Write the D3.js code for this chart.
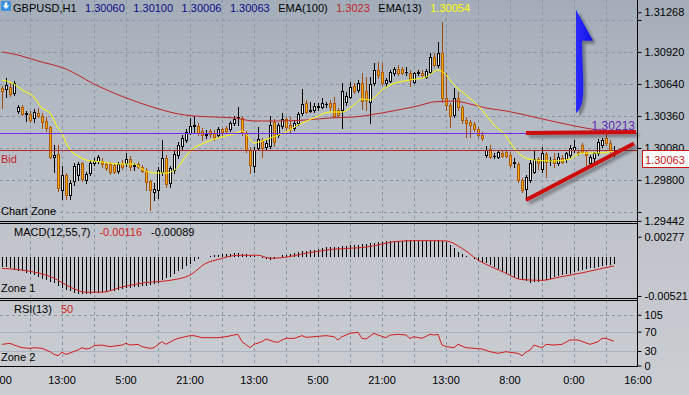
<!DOCTYPE html>
<html><head><meta charset="utf-8">
<script src="https://cdn.jsdelivr.net/npm/d3@7"></script>
<style>
html,body{margin:0;padding:0;background:#c4c8cd;overflow:hidden;}
svg{display:block;font-family:"Liberation Sans",Arial,sans-serif;font-size:11px;}
</style></head><body>
<svg id="chart" width="689" height="395"></svg>
<script>
// ---------------- DATA ----------------
const symbol = "GBPUSD,H1";
const opens = [1.30605,1.30596,1.30614,1.30561,1.30404,1.30439,1.30378,1.30378,1.30343,1.30386,
1.30360,1.30316,1.30264,1.30001,1.30028,1.29713,1.29844,1.29669,1.29791,1.29844,
1.29949,1.29800,1.29861,1.29949,1.29966,1.29966,1.29940,1.29940,1.29931,1.29879,
1.29949,1.29949,1.29984,1.29923,1.29940,1.29914,1.29888,1.29791,1.29695,1.29713,
1.29870,1.29993,1.29774,1.29888,1.30019,1.30098,1.30150,1.30211,1.30273,1.30273,
1.30229,1.30194,1.30229,1.30211,1.30194,1.30246,1.30255,1.30246,1.30299,1.30343,
1.30343,1.30211,1.30063,1.29923,1.30080,1.30150,1.30089,1.30098,1.30308,1.30194,
1.30273,1.30334,1.30281,1.30255,1.30299,1.30386,1.30474,1.30404,1.30413,1.30439,
1.30439,1.30465,1.30474,1.30474,1.30413,1.30413,1.30483,1.30526,1.30623,1.30588,
1.30649,1.30579,1.30483,1.30649,1.30763,1.30745,1.30649,1.30666,1.30736,1.30771,
1.30771,1.30745,1.30736,1.30658,1.30736,1.30736,1.30701,1.30745,1.30876,1.30806,
1.30911,1.30518,1.30456,1.30369,1.30518,1.30439,1.30325,1.30308,1.30290,1.30246,
1.30194,1.30019,1.30071,1.30010,1.30001,1.30036,1.30045,1.30019,1.29949,1.29940,
1.29800,1.29721,1.29800,1.29870,1.29984,1.29896,1.30028,1.29975,1.29984,1.29949,
1.29993,1.29984,1.30019,1.30063,1.30045,1.30106,1.30045,1.29949,1.29993,1.30036,
1.30106,1.30168,1.30124,1.30060];
const highs = [1.30623,1.30693,1.30649,1.30666,1.30456,1.30456,1.30404,1.30404,1.30421,1.30430,
1.30386,1.30351,1.30273,1.30106,1.30106,1.29923,1.29861,1.29800,1.29949,1.29958,
1.29958,1.29870,1.29975,1.29993,1.30019,1.29993,1.29958,1.29958,1.29949,1.29958,
1.29975,1.30036,1.30010,1.29949,1.29958,1.29931,1.29905,1.29800,1.29774,1.29914,
1.30150,1.30019,1.29923,1.30054,1.30133,1.30194,1.30246,1.30343,1.30360,1.30299,
1.30255,1.30238,1.30246,1.30238,1.30264,1.30255,1.30273,1.30316,1.30360,1.30439,
1.30360,1.30229,1.30089,1.30089,1.30264,1.30168,1.30150,1.30360,1.30334,1.30299,
1.30386,1.30351,1.30351,1.30325,1.30395,1.30596,1.30500,1.30483,1.30474,1.30474,
1.30518,1.30483,1.30500,1.30526,1.30430,1.30649,1.30570,1.30658,1.30649,1.30675,
1.30736,1.30701,1.30701,1.30824,1.30833,1.30824,1.30693,1.30763,1.30789,1.30806,
1.30789,1.30789,1.30763,1.30745,1.30763,1.30763,1.30771,1.30911,1.30911,1.31008,
1.31183,1.30736,1.30474,1.30605,1.30570,1.30456,1.30351,1.30325,1.30308,1.30264,
1.30220,1.30098,1.30106,1.30036,1.30063,1.30063,1.30063,1.30045,1.29993,1.29958,
1.29818,1.29844,1.29975,1.30063,1.30001,1.30089,1.30045,1.30001,1.30036,1.30036,
1.30019,1.30045,1.30106,1.30150,1.30063,1.30124,1.30063,1.30019,1.30045,1.30159,
1.30168,1.30211,1.30150,1.30100];
const lows = [1.30430,1.30526,1.30535,1.30544,1.30386,1.30369,1.30316,1.30308,1.30308,1.30351,
1.30255,1.30229,1.29993,1.29870,1.29704,1.29634,1.29634,1.29634,1.29756,1.29800,
1.29791,1.29774,1.29844,1.29931,1.29949,1.29914,1.29888,1.29853,1.29861,1.29861,
1.29896,1.29923,1.29888,1.29888,1.29905,1.29870,1.29713,1.29538,1.29625,1.29643,
1.29844,1.29739,1.29739,1.29861,1.29993,1.30071,1.30133,1.30203,1.30220,1.30194,
1.30150,1.30168,1.30176,1.30150,1.30176,1.30185,1.30211,1.30229,1.30281,1.30281,
1.30194,1.30045,1.29861,1.29870,1.30063,1.30001,1.30071,1.30080,1.30098,1.30176,
1.30255,1.30238,1.30220,1.30238,1.30281,1.30369,1.30386,1.30395,1.30395,1.30413,
1.30430,1.30439,1.30413,1.30351,1.30351,1.30255,1.30456,1.30518,1.30561,1.30570,
1.30421,1.30413,1.30299,1.30631,1.30693,1.30631,1.30623,1.30658,1.30719,1.30719,
1.30728,1.30719,1.30623,1.30649,1.30719,1.30701,1.30693,1.30736,1.30798,1.30789,
1.30483,1.30413,1.30264,1.30351,1.30413,1.30299,1.30176,1.30176,1.30229,1.30176,
1.30150,1.30001,1.29993,1.29993,1.29993,1.30001,1.30001,1.29914,1.29914,1.29783,
1.29695,1.29625,1.29783,1.29861,1.29896,1.29870,1.29826,1.29931,1.29914,1.29931,
1.29949,1.29958,1.30001,1.30045,1.30019,1.30036,1.29931,1.29940,1.29958,1.30019,
1.30089,1.30106,1.30045,1.30006];
const closes = [1.30579,1.30631,1.30553,1.30649,1.30439,1.30378,1.30386,1.30325,1.30395,1.30360,
1.30308,1.30255,1.30001,1.30019,1.29730,1.29844,1.29669,1.29774,1.29923,1.29940,
1.29809,1.29853,1.29949,1.29966,1.30001,1.29940,1.29905,1.29870,1.29870,1.29940,
1.29914,1.29984,1.29914,1.29931,1.29914,1.29879,1.29783,1.29713,1.29721,1.29888,
1.29993,1.29765,1.29905,1.30028,1.30106,1.30168,1.30220,1.30273,1.30277,1.30211,
1.30194,1.30198,1.30203,1.30176,1.30246,1.30220,1.30229,1.30299,1.30334,1.30347,
1.30220,1.30063,1.29931,1.30063,1.30159,1.30080,1.30124,1.30281,1.30133,1.30281,
1.30334,1.30264,1.30246,1.30299,1.30378,1.30465,1.30395,1.30413,1.30448,1.30448,
1.30474,1.30468,1.30439,1.30360,1.30369,1.30579,1.30535,1.30614,1.30579,1.30649,
1.30491,1.30500,1.30640,1.30763,1.30719,1.30649,1.30675,1.30745,1.30771,1.30736,
1.30736,1.30749,1.30675,1.30736,1.30741,1.30719,1.30754,1.30876,1.30806,1.30911,
1.30518,1.30456,1.30360,1.30518,1.30439,1.30325,1.30299,1.30281,1.30246,1.30194,
1.30168,1.30063,1.30001,1.30014,1.30045,1.30010,1.30010,1.29931,1.29953,1.29800,
1.29713,1.29826,1.29949,1.29984,1.29949,1.30036,1.29958,1.29979,1.29949,1.30001,
1.29958,1.30036,1.30080,1.30089,1.30036,1.30045,1.30019,1.30001,1.30036,1.30133,
1.30150,1.30124,1.30063,1.30063];

// EMA(13) and EMA(100) read at key candles (candle index, value)
const ema13Idx = [0,3,5,8,10,12,14,15,16,17,19,21,25,29,33,35,38,41,44,46,48,50,54,58,60,61,63,67,71,74,78,82,85,88,90,92,95,97,102,106,109,111,113,116,120,123,126,128,130,133,138,142,145,149,153];
const ema13Val = [1.30675,1.30640,1.30588,1.30526,1.30430,1.30386,1.30255,1.30211,1.30124,1.30063,1.30010,1.29975,1.29958,1.29940,1.29940,1.29896,1.29861,1.29861,1.29914,1.30010,1.30080,1.30115,1.30168,1.30203,1.30229,1.30203,1.30124,1.30168,1.30220,1.30281,1.30343,1.30395,1.30395,1.30456,1.30509,1.30500,1.30588,1.30631,1.30675,1.30701,1.30763,1.30719,1.30631,1.30544,1.30413,1.30281,1.30185,1.30080,1.30010,1.29975,1.29966,1.29984,1.30036,1.30036,1.30054];
const ema100Idx = [0,4,9,16,23,31,36,40,44,48,53,58,63,69,76,82,88,92,99,104,108,113,117,121,126,134,142,149,153];
const ema100Val = [1.30920,1.30894,1.30841,1.30771,1.30640,1.30518,1.30456,1.30413,1.30378,1.30360,1.30351,1.30343,1.30316,1.30316,1.30325,1.30343,1.30351,1.30369,1.30413,1.30448,1.30483,1.30491,1.30465,1.30430,1.30404,1.30343,1.30281,1.30238,1.30230];

// MACD(12,55,7): histogram per candle, signal read at key candles
const macdHist = [-0.00126,-0.00135,-0.00150,-0.00165,-0.00178,-0.00190,-0.00205,-0.00220,-0.00240,-0.00262,
-0.00290,-0.00310,-0.00330,-0.00350,-0.00380,-0.00420,-0.00440,-0.00460,-0.00475,-0.00490,
-0.00495,-0.00500,-0.00495,-0.00485,-0.00478,-0.00470,-0.00462,-0.00455,-0.00450,-0.00440,
-0.00430,-0.00420,-0.00412,-0.00405,-0.00400,-0.00390,-0.00382,-0.00375,-0.00360,-0.00340,
-0.00310,-0.00285,-0.00260,-0.00225,-0.00190,-0.00155,-0.00120,-0.00085,-0.00050,-0.00025,
0.00000,0.00010,0.00020,0.00025,0.00030,0.00038,0.00045,0.00050,0.00054,0.00054,
0.00050,0.00042,0.00035,0.00022,0.00010,-0.00010,-0.00027,-0.00030,-0.00020,0.00005,
0.00027,0.00035,0.00045,0.00055,0.00067,0.00080,0.00090,0.00095,0.00100,0.00110,
0.00120,0.00132,0.00143,0.00143,0.00143,0.00148,0.00150,0.00160,0.00166,0.00170,
0.00175,0.00182,0.00190,0.00198,0.00206,0.00210,0.00215,0.00220,0.00224,0.00224,
0.00224,0.00228,0.00233,0.00230,0.00224,0.00224,0.00224,0.00224,0.00224,0.00226,
0.00224,0.00210,0.00170,0.00120,0.00070,0.00040,0.00020,0.00000,-0.00027,-0.00045,
-0.00060,-0.00080,-0.00100,-0.00130,-0.00160,-0.00190,-0.00220,-0.00245,-0.00270,-0.00290,
-0.00310,-0.00325,-0.00340,-0.00338,-0.00330,-0.00322,-0.00310,-0.00290,-0.00270,-0.00255,
-0.00240,-0.00230,-0.00220,-0.00200,-0.00180,-0.00170,-0.00160,-0.00150,-0.00140,-0.00130,
-0.00120,-0.00110,-0.00100,-0.00089];
const macdSigIdx = [0,6,13,17,21,25,30,36,42,47,51,54,59,64,67,70,76,83,90,94,98,103,108,111,115,119,125,130,135,139,145,150,153];
const macdSigVal = [-0.0015,-0.0018,-0.0028,-0.0040,-0.0047,-0.0047,-0.0040,-0.0034,-0.0031,-0.0024,-0.0008,-0.0003,0.00027,0.00027,-0.00013,-0.00005,0.00054,0.0011,0.0013,0.00166,0.0021,0.00224,0.00224,0.0022,0.0012,-0.00036,-0.0019,-0.0030,-0.0031,-0.0027,-0.0021,-0.0015,-0.00116];

// RSI(13) read at key candles
const rsiIdx = [0,2,3,5,7,8,10,12,13,14,15,16,19,20,21,22,23,25,27,30,31,32,34,35,37,38,40,41,43,44,47,48,50,54,56,58,59,60,62,63,65,66,68,69,70,71,73,75,76,81,83,84,85,87,89,90,91,93,94,96,97,99,101,102,103,105,107,108,109,110,111,113,114,116,118,120,122,124,126,127,129,130,131,132,133,135,136,138,140,142,144,147,149,150,151,153];
const rsiVal = [43.8,45.9,42.4,36.9,35.5,36.9,35.5,28.6,23.1,20.4,27.3,23.1,32.1,36.9,34.2,35.5,41.1,42.4,39.0,42.4,45.9,42.4,43.8,39.0,35.5,36.9,49.3,43.8,52.8,56.2,61.8,61.8,57.6,57.6,59.7,63.1,64.5,49.3,36.9,43.8,49.3,54.9,49.3,48.0,52.8,56.2,56.2,61.8,58.3,61.8,59.7,52.8,59.7,66.6,68.7,56.2,54.9,66.6,63.1,57.6,63.1,64.5,63.1,56.2,59.7,56.2,64.5,63.1,64.5,42.4,39.0,36.9,43.8,36.9,35.5,34.2,28.6,25.2,28.6,27.3,25.2,20.4,27.3,32.1,42.4,36.9,43.8,42.4,43.8,52.8,52.8,43.8,49.3,56.2,56.2,50];

const mainTicks = [1.31268,1.30920,1.30640,1.30360,1.30080,1.29800,1.29442];
const mainGrid = [1.3120,1.3092,1.3064,1.3036,1.3008,1.2980,1.2952];
const macdTicks = [0.00277,-0.00521];
const rsiTicks = [105,70,30,0];
const rsiLevels = [70,30];
const timeIdx = [-1,15,31,47,63,79,95,111,127,143,159];
const timeLabels = ["21:00","13:00","5:00","21:00","13:00","5:00","21:00","13:00","8:00","0:00","16:00"];
const hLinePrice = 1.30213;
const trendFlat = [[131,1.30211],[158.5,1.30220]];
const trendUp = [[131,1.29625],[158,1.30119]];
const arrowAnchor = [143.5,1.31290];

// ---------------- LAYOUT ----------------
const plotRight = 637;
const main = {top:0,bottom:221}, macdP = {top:223,bottom:298}, rsiP = {top:300,bottom:367};
const n = closes.length;
const x = d3.scaleLinear().domain([0,153]).range([2,614]);
const y = d3.scaleLinear().domain([1.29442,1.31268]).range([220.9,12.2]);
const yM = d3.scaleLinear().domain([-0.00521,0.00277]).range([296,236.7]);
const yR = d3.scaleLinear().domain([0,105]).range([365.5,314.8]);
const px = i => Math.round(x(i)) + 0.5;

const svg = d3.select('#chart');
const defs = svg.append('defs');
const bg = defs.append('linearGradient').attr('id','bg').attr('x1',0).attr('y1',0).attr('x2',0).attr('y2',1);
[[0,'#a3adb9'],[0.3,'#b4bbc4'],[0.6,'#c1c5cb'],[1,'#cbced3']].forEach(([o,c])=>bg.append('stop').attr('offset',o).attr('stop-color',c));
const ag = defs.append('linearGradient').attr('id','ag').attr('x1',0).attr('y1',0).attr('x2',1).attr('y2',0);
[[0,'#0808d8'],[0.45,'#2c2cff'],[1,'#1010e0']].forEach(([o,c])=>ag.append('stop').attr('offset',o).attr('stop-color',c));
const f = defs.append('filter').attr('id','sh').attr('filterUnits','userSpaceOnUse')
  .attr('x',0).attr('y',0).attr('width',689).attr('height',395);
f.append('feGaussianBlur').attr('in','SourceAlpha').attr('stdDeviation',1.4).attr('result','b');
f.append('feOffset').attr('in','b').attr('dx',3).attr('dy',3).attr('result','o');
f.append('feComponentTransfer').attr('in','o').attr('result','o2').append('feFuncA').attr('type','linear').attr('slope',0.35);
const fm = f.append('feMerge'); fm.append('feMergeNode').attr('in','o2'); fm.append('feMergeNode').attr('in','SourceGraphic');

svg.append('rect').attr('width',689).attr('height',395).attr('fill','url(#bg)');

// grid
const grid = svg.append('g').attr('stroke','#8a96a6').attr('stroke-width',1).attr('stroke-dasharray','3,3');
const gridIdx = d3.range(7,153,8);
[main,macdP,rsiP].forEach(p=>{
  gridIdx.forEach(i=>grid.append('line').attr('x1',px(i)).attr('x2',px(i)).attr('y1',p.top).attr('y2',p.bottom));
});
mainGrid.forEach(v=>{const yy=Math.round(y(v))+0.5; grid.append('line').attr('x1',0).attr('x2',plotRight).attr('y1',yy).attr('y2',yy);});
grid.append('line').attr('x1',0).attr('x2',plotRight).attr('y1',Math.round(yR(105))+0.5).attr('y2',Math.round(yR(105))+0.5);
rsiLevels.forEach(v=>{const yy=Math.round(yR(v))+0.5; svg.append('line').attr('x1',0).attr('x2',plotRight).attr('y1',yy).attr('y2',yy).attr('stroke','#adb4bd').attr('stroke-width',1);});

// candles
const cg = svg.append('g');
for(let i=0;i<n;i++){
  const o=opens[i],c=closes[i],h=highs[i],l=lows[i];
  const bull = c>=o;
  const wick = bull ? '#000000' : '#a04e10';
  const xx = px(i);
  cg.append('line').attr('x1',xx).attr('x2',xx).attr('y1',Math.round(y(h))).attr('y2',Math.round(y(l))+1).attr('stroke',wick);
  const t = Math.round(y(Math.max(o,c))), b = Math.round(y(Math.min(o,c)));
  const bx = Math.round(x(i)) - 1;
  if(b - t < 1){
    cg.append('line').attr('x1',bx).attr('x2',bx+3).attr('y1',t+0.5).attr('y2',t+0.5).attr('stroke',wick);
  } else {
    cg.append('rect').attr('x',bx).attr('y',t).attr('width',3).attr('height',b-t+1).attr('fill',bull?'#ffffff':'#f2aa00');
    cg.append('rect').attr('x',bx+0.5).attr('y',t+0.5).attr('width',2).attr('height',b-t).attr('fill','none').attr('stroke',bull?'#000000':'#b05a0c');
  }
}

// EMA lines
const lineP = (xs,vs,ys,curve)=>d3.line().x(d=>x(d)).y((d,k)=>ys(vs[k])).curve(curve)(xs);
svg.append('path').attr('d',lineP(ema100Idx,ema100Val,y,d3.curveMonotoneX)).attr('fill','none').attr('stroke','#c0242a').attr('stroke-width',1);
svg.append('path').attr('d',lineP(ema13Idx,ema13Val,y,d3.curveMonotoneX)).attr('fill','none').attr('stroke','#ffff00').attr('stroke-width',1);

// horizontal lines
const hy = Math.round(y(hLinePrice))+0.5;
svg.append('line').attr('x1',0).attr('x2',plotRight).attr('y1',hy).attr('y2',hy).attr('stroke','#7a28ee').attr('stroke-width',1.2);
const bid = closes[n-1];
const by = Math.round(y(bid))+0.5;
svg.append('line').attr('x1',0).attr('x2',plotRight).attr('y1',by).attr('y2',by).attr('stroke','#b02828');
svg.append('text').attr('x',635).attr('y',hy-4).attr('text-anchor','end').attr('fill','#6424b4').attr('font-size',12).text(hLinePrice.toFixed(5));
svg.append('text').attr('x',1).attr('y',by+12).attr('fill','#c0242a').text('Bid');

// trend lines
const tl = svg.append('g').attr('filter','url(#sh)');
[trendFlat,trendUp].forEach(t=>{
  tl.append('line').attr('x1',x(t[0][0])).attr('y1',y(t[0][1])).attr('x2',x(t[1][0])).attr('y2',y(t[1][1]))
    .attr('stroke','#cc0a0a').attr('stroke-width',4).attr('stroke-linecap','butt');
});

// blue arrow (J-shaped, pointing up)
const ax = x(arrowAnchor[0]), ay = y(arrowAnchor[1]);
svg.append('path').attr('transform',`translate(${ax},${ay})`).attr('filter','url(#sh)')
  .attr('d','M0,0 L17,31 L6,31 C6,50 8,72 7,86 C6,99 1,105 -5,105 C-11,105 -15,99 -15,91 L-15,77 L-9,77 L-9,90 C-9,96 -4,96 -4,89 C-4,70 -4,50 -4,31 L-14,31 Z')
  .attr('fill','url(#ag)');

// MACD
const mg = svg.append('g').attr('stroke','#000');
const z = Math.round(yM(0));
macdHist.forEach((v,i)=>{ mg.append('line').attr('x1',px(i)).attr('x2',px(i)).attr('y1',z).attr('y2',Math.round(yM(v))); });
svg.append('path').attr('d',lineP(macdSigIdx,macdSigVal,yM,d3.curveMonotoneX)).attr('fill','none').attr('stroke','#d01e1e').attr('stroke-width',1);

// RSI
svg.append('path').attr('d',lineP(rsiIdx,rsiVal,yR,d3.curveLinear)).attr('fill','none').attr('stroke','#d01e1e').attr('stroke-width',1);

// frames
const fr = svg.append('g').attr('stroke','#000').attr('stroke-width',1);
[[221.5],[223.5],[298.5],[300.5],[366.5]].forEach(([yy])=>fr.append('line').attr('x1',0).attr('x2',plotRight+0.5).attr('y1',yy).attr('y2',yy));
fr.append('line').attr('x1',plotRight+0.5).attr('x2',plotRight+0.5).attr('y1',0).attr('y2',367);

// axes
function rAxis(scale, vals, fmt){
  const g = svg.append('g').attr('transform',`translate(${plotRight+0.5},0)`)
    .call(d3.axisRight(scale).tickValues(vals).tickFormat(fmt).tickSize(4).tickPadding(3));
  g.select('.domain').remove();
  g.selectAll('text').attr('fill','#000').attr('font-size',11).attr('font-family','Liberation Sans, Arial, sans-serif');
  g.selectAll('line').attr('stroke','#000');
  return g;
}
rAxis(y, mainTicks, d=>d.toFixed(5));
rAxis(y, [mainGrid[0], mainGrid[mainGrid.length-1]], ()=> '');
rAxis(yM, macdTicks, d=>d.toFixed(5));
rAxis(yR, rsiTicks, d=>String(d));

// bid price box
svg.append('rect').attr('x',642.5).attr('y',Math.round(y(bid))+0.5).attr('width',50).attr('height',17).attr('fill','#ffffff').attr('stroke','#c81414');
svg.append('text').attr('x',645).attr('y',Math.round(y(bid))+14).attr('fill','#c81414').text(bid.toFixed(5));

// time labels
timeIdx.forEach((i,k)=>svg.append('text').attr('x',x(i)).attr('y',384).attr('text-anchor','middle').attr('fill','#000').text(timeLabels[k]));

// header / panel labels
function flow(items, x0, yb, gap){
  let xx = x0;
  items.forEach(([t,c])=>{const el = svg.append('text').attr('x',xx).attr('y',yb).attr('fill',c).text(t); xx += el.node().getComputedTextLength()+gap;});
}
const trim = v => String(+v.toFixed(5));
const navy = '#0c0c86';
const ic = svg.append('g').attr('transform','translate(1,1)');
ic.append('rect').attr('width',10).attr('height',10).attr('rx',1.5).attr('fill','#3a92e0');
ic.append('path').attr('d','M5,8 L1.8,4.5 L3.8,4.5 L3.8,1.5 L6.2,1.5 L6.2,4.5 L8.2,4.5 Z').attr('fill','#fff');
flow([[symbol,'#000'],[opens[n-1].toFixed(5),navy],[highs[n-1].toFixed(5),navy],[lows[n-1].toFixed(5),navy],[closes[n-1].toFixed(5),navy],
      ['EMA(100)','#000'],[trim(ema100Val[ema100Val.length-1]),'#c0242a'],['EMA(13)','#000'],[ema13Val[ema13Val.length-1].toFixed(5),'#ffff00']], 13, 12, 8.5);
flow([['MACD(12,55,7)','#000'],[macdSigVal[macdSigVal.length-1].toFixed(5),'#d01e1e'],[macdHist[n-1].toFixed(5),'#000']], 14, 236, 9);
flow([['RSI(13)','#000'],[String(rsiVal[rsiVal.length-1]),'#d01e1e']], 14, 313, 9);
svg.append('text').attr('x',1).attr('y',215).attr('fill','#000').text('Chart Zone');
svg.append('text').attr('x',1).attr('y',292).attr('fill','#000').text('Zone 1');
svg.append('text').attr('x',1).attr('y',361).attr('fill','#000').text('Zone 2');
</script>
</body></html>
